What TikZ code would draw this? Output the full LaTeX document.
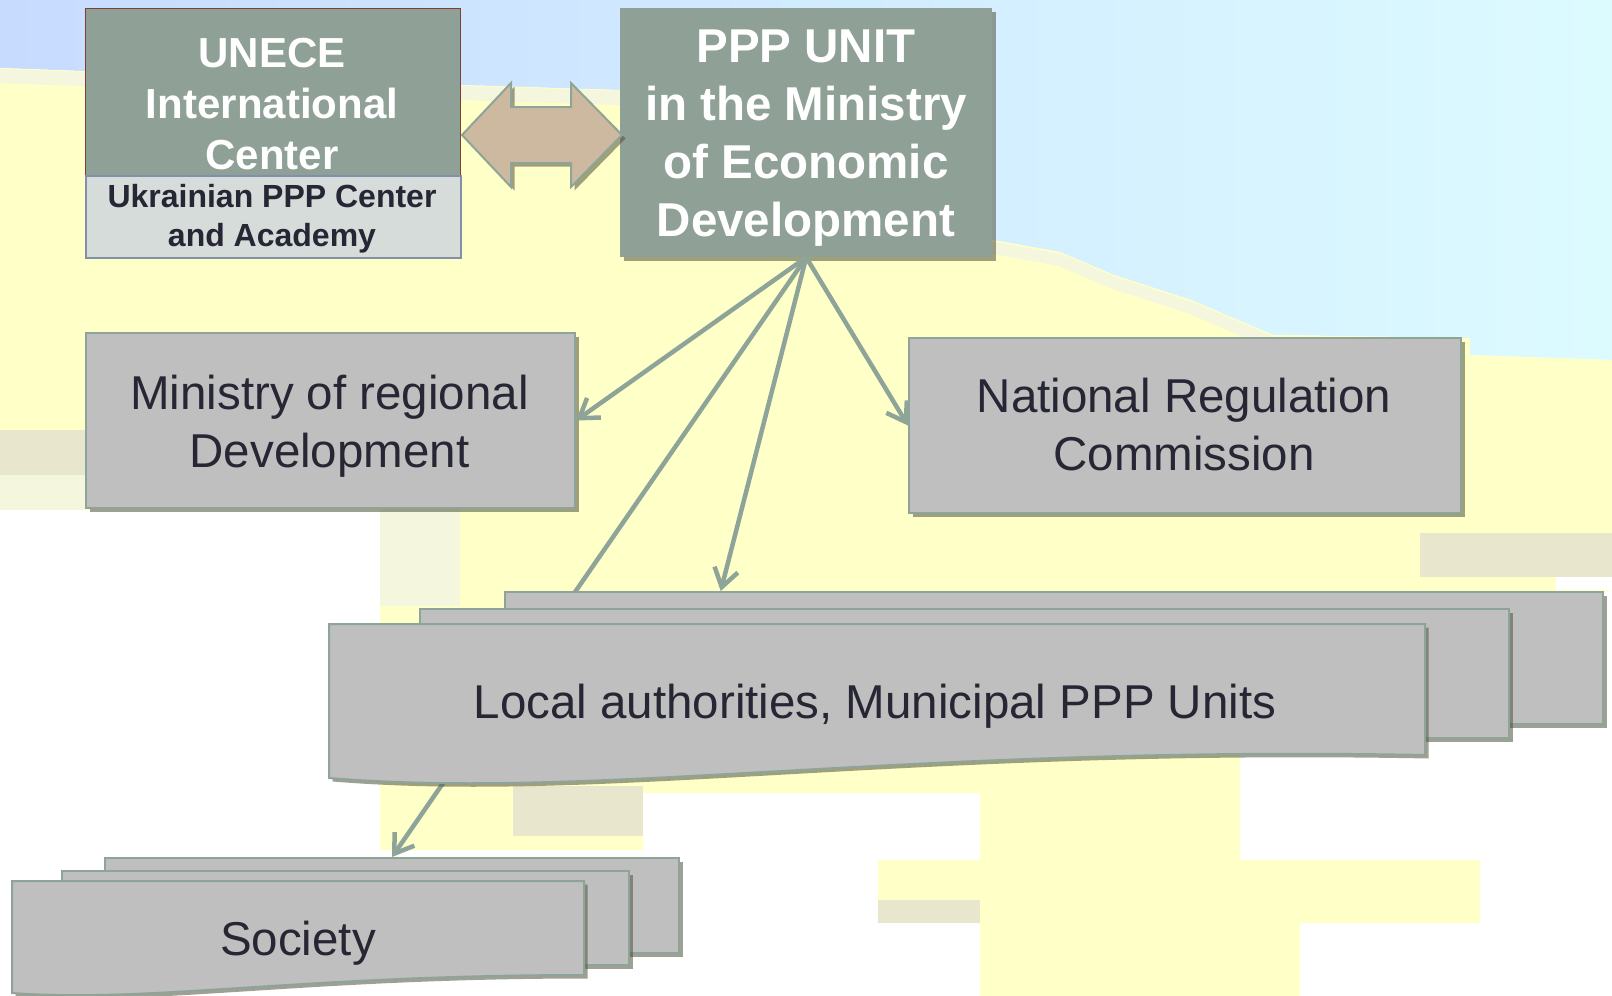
\documentclass[tikz,border=0pt]{standalone}
\usepackage{fontspec}
\setmainfont{Liberation Sans}
\usetikzlibrary{arrows.meta,shadows,calc}
\definecolor{skyL}{RGB}{199,219,255}
\definecolor{skyM}{RGB}{207,238,255}
\definecolor{skyR}{RGB}{220,251,255}
\definecolor{sand}{RGB}{255,255,200}
\definecolor{sandpale}{RGB}{244,246,222}
\definecolor{sandgray}{RGB}{232,230,205}
\definecolor{sage}{RGB}{143,160,150}
\definecolor{edgec}{RGB}{143,164,152}
\definecolor{boxgray}{RGB}{191,191,191}
\definecolor{ink}{RGB}{38,38,52}
\definecolor{tanc}{RGB}{205,185,160}
\definecolor{lowfill}{RGB}{213,220,217}
\definecolor{lowedge}{RGB}{128,143,170}
\definecolor{redge}{RGB}{130,62,50}
\definecolor{shadec}{RGB}{80,82,60}
\begin{document}
\begin{tikzpicture}[x=1pt,y=-1pt,
  shad/.style={drop shadow={shadow xshift=3.5pt,shadow yshift=-3.5pt,fill=shadec,opacity=.55}},
  grayfill/.style={draw=edgec,line width=2pt,fill=boxgray,shad},
  graybox/.style={grayfill,inner sep=0pt,anchor=north west},
  bigtxt/.style={text=ink,align=center,inner sep=0pt,font=\fontsize{47.5}{58}\selectfont},
  wtxt/.style={text=white,align=center,inner sep=0pt},
  link/.style={draw=edgec,line width=4.5pt,-{Straight Barb[length=18pt,width=24pt]}},
]
\useasboundingbox (0,0) rectangle (1612,996);
\clip (0,0) rectangle (1612,996);
% ---------- background ----------
\fill[white] (0,0) rectangle (1612,996);
\shade[left color=skyL, middle color=skyM, right color=skyR]
  (0,0) -- (1612,0) -- (1612,360) -- (1470,355) -- (1470,338) -- (1273,335) -- (1191,300)
  -- (1114,275) -- (1060,252) -- (993,240) -- (620,90) -- (460,85) -- (0,68) -- cycle;
\fill[sand] (0,68) -- (460,85) -- (620,90) -- (993,240) -- (1060,252) -- (1114,275) -- (1191,300)
  -- (1273,335) -- (1470,338) -- (1470,355) -- (1612,360) -- (1612,590) -- (1300,700) -- (1240,740)
  -- (1240,860) -- (1480,860) -- (1480,923) -- (1300,923) -- (1300,996) -- (980,996) -- (980,923)
  -- (878,923) -- (878,860) -- (980,860) -- (980,793) -- (643,793) -- (643,850) -- (380,850)
  -- (380,510) -- (85,510) -- (85,430) -- (0,430) -- cycle;
\draw[sandpale,line width=12pt] (993,248) -- (1060,260) -- (1114,283) -- (1191,308) -- (1273,343);
\draw[sandpale,line width=14pt] (0,76) -- (460,93) -- (620,98);
\fill[sandgray] (0,430) rectangle (85,475);
\fill[sandpale] (0,475) rectangle (85,510);
\fill[sandpale] (380,507) rectangle (460,606);
\fill[sandgray] (513,786) rectangle (643,836);
\fill[sandgray] (1420,533) rectangle (1612,577);
\fill[white] (1556,577) rectangle (1612,590);
\fill[sandgray] (878,900) rectangle (980,923);
% ---------- top row ----------
\node[anchor=north west,minimum width=375pt,minimum height=167pt,inner sep=0pt,
      fill=sage,draw=redge,line width=1pt] (unece) at (85,8) {};
\node[anchor=north west,minimum width=375pt,minimum height=82pt,inner sep=0pt,
      fill=lowfill,draw=lowedge,line width=1.5pt] (ukr) at (85,175) {};
\node[wtxt,font=\bfseries\fontsize{42}{51}\selectfont] (unecetxt) at (272,104)
  {UNECE\\International\\Center};
\node[text=ink,align=center,inner sep=0pt,font=\bfseries\fontsize{32}{39}\selectfont]
  (ukrtxt) at (272,219) {Ukrainian PPP Center\\and Academy};
\node[anchor=north west,minimum width=372pt,minimum height=249pt,inner sep=0pt,
      fill=sage,shad] (ppp) at (620,8) {};
\node[wtxt,font=\bfseries\fontsize{47.5}{58}\selectfont] (ppptxt) at (806,138)
  {PPP UNIT\\in the Ministry\\of Economic\\Development};
\path[fill=tanc,draw=edgec,line width=2pt,shad]
  (462,135) -- (511,83) -- (511,107) -- (571,107) -- (571,83) -- (622,135)
  -- (571,187) -- (571,163) -- (511,163) -- (511,187) -- cycle;
% ---------- middle row ----------
\node[graybox,minimum width=489pt,minimum height=175pt] (mrd) at (85,332) {};
\node[bigtxt] (mrdtxt) at (329.5,426) {Ministry of regional\\Development};
\node[graybox,minimum width=552pt,minimum height=175pt] (nrc) at (908,337) {};
\node[bigtxt] (nrctxt) at (1184,425) {National Regulation\\Commission};
% ---------- society stack ----------
\node[graybox,minimum width=574pt,minimum height=95pt] (sback) at (104,857) {};
\node[graybox,minimum width=567pt,minimum height=94pt] (smid) at (61,870) {};
\path[grayfill] (12,881) -- (584,881) -- (584,975) .. controls (300,975) and (150,1003) .. (12,993) -- cycle;
\node[bigtxt] (society) at (298,943) {Society};
\draw[link] (ppp.south) -- (sback.north);
% ---------- local stack ----------
\node[graybox,minimum width=1098pt,minimum height=132pt] (lback) at (504,591) {};
\node[graybox,minimum width=1089pt,minimum height=129pt] (lmid) at (419,608) {};
\path[grayfill] (329,624) -- (1425,624) -- (1425,755) .. controls (900,745) and (600,800) .. (329,778) -- cycle;
\node[bigtxt] (local) at (875,706) {Local authorities, Municipal PPP Units};
% ---------- connectors ----------
\draw[link] (ppp.south) -- (mrd.east);
\draw[link] (ppp.south) -- (nrc.west);
\draw[link] (ppp.south) -- ($(lback.north west)!0.197!(lback.north east)$);
\end{tikzpicture}
\end{document}
